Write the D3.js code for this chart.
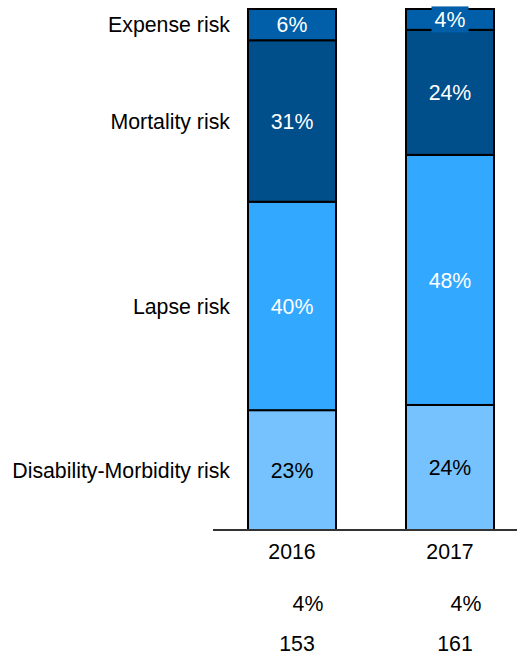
<!DOCTYPE html>
<html>
<head>
<meta charset="utf-8">
<script src="https://cdn.jsdelivr.net/npm/d3@7"></script>
<style>
  html, body { margin: 0; padding: 0; background: #fff; }
  svg { display: block; font-family: "Liberation Sans", Arial, sans-serif; }
</style>
</head>
<body>
<svg id="chart" width="517" height="657"></svg>
<script>
// Risk categories, stacked bottom to top
const categories = ["Disability-Morbidity risk", "Lapse risk", "Mortality risk", "Expense risk"];
const years = ["2016", "2017"];
// Share of each risk (%) per year, in category order
const values2016 = [23, 40, 31, 6];
const values2017 = [24, 48, 24, 4];
// Rows shown under the axis
const row1Labels = ["4%", "4%"];
const row2Labels = ["153", "161"];

const colors = ["#75C2FF", "#33A8FF", "#004E8A", "#005FA8"];
const textColors = ["#000", "#fff", "#fff", "#fff"];

const svg = d3.select("#chart");
const fontSize = 21.3;

const x = d3.scaleBand().domain(years).range([248, 494]).paddingInner(0.443).paddingOuter(0);
const y = d3.scaleLinear().domain([0, 100]).range([530, 9]);

const table = years.map((yr, i) => {
  const row = { year: yr };
  const vals = i === 0 ? values2016 : values2017;
  categories.forEach((c, j) => { row[c] = vals[j]; });
  return row;
});

const series = d3.stack().keys(categories)(table);

// Bar segments
const groups = svg.append("g").selectAll("g")
  .data(series)
  .join("g")
  .attr("fill", (d, i) => colors[i]);

groups.selectAll("rect")
  .data(d => d)
  .join("rect")
  .attr("x", d => x(d.data.year))
  .attr("y", d => y(d[1]))
  .attr("width", x.bandwidth())
  .attr("height", d => y(d[0]) - y(d[1]))
  .attr("stroke", "#000")
  .attr("stroke-width", 2);

// Baseline
svg.append("line")
  .attr("x1", 213).attr("x2", 517)
  .attr("y1", y(0)).attr("y2", y(0))
  .attr("stroke", "#333").attr("stroke-width", 2);

// Segment value labels
series.forEach((s, i) => {
  s.forEach(d => {
    const cx = x(d.data.year) + x.bandwidth() / 2;
    const cy = (y(d[0]) + y(d[1])) / 2;
    const val = d[1] - d[0];
    const label = val + "%";
    if (y(d[0]) - y(d[1]) < 26) {
      // small segment: label sits on a filled box
      const w = 37, h = 26;
      svg.append("rect")
        .attr("x", cx - w / 2).attr("y", cy - h / 2)
        .attr("width", w).attr("height", h)
        .attr("fill", colors[i]);
    }
    svg.append("text")
      .attr("x", cx).attr("y", cy).attr("dy", "0.36em")
      .attr("text-anchor", "middle")
      .attr("font-size", fontSize)
      .attr("fill", textColors[i])
      .text(label);
  });
});

// Category labels aligned to the first bar's segments
const first = series.map(s => s[0]);
svg.append("g").selectAll("text")
  .data(first)
  .join("text")
  .attr("x", 230)
  .attr("y", d => (y(d[0]) + y(d[1])) / 2)
  .attr("dy", "0.36em")
  .attr("text-anchor", "end")
  .attr("font-size", fontSize)
  .attr("fill", "#000")
  .text((d, i) => categories[i]);

// Year axis labels
const xAxis = d3.axisBottom(x).tickSize(0).tickPadding(0);
const axisG = svg.append("g").attr("transform", `translate(0,${551})`).call(xAxis);
axisG.select(".domain").remove();
axisG.selectAll("text")
  .attr("y", 0).attr("dy", "0.36em")
  .attr("font-size", fontSize)
  .attr("font-family", "Liberation Sans, Arial, sans-serif")
  .attr("fill", "#000");

// Rows under the axis
svg.append("g").selectAll("text")
  .data(row1Labels)
  .join("text")
  .attr("x", (d, i) => x(years[i]) + x.bandwidth() / 2 + 16)
  .attr("y", 603).attr("dy", "0.36em")
  .attr("text-anchor", "middle")
  .attr("font-size", fontSize)
  .text(d => d);

svg.append("g").selectAll("text")
  .data(row2Labels)
  .join("text")
  .attr("x", (d, i) => x(years[i]) + x.bandwidth() / 2 + 5)
  .attr("y", 643).attr("dy", "0.36em")
  .attr("text-anchor", "middle")
  .attr("font-size", fontSize)
  .text(d => d);
</script>
</body>
</html>
